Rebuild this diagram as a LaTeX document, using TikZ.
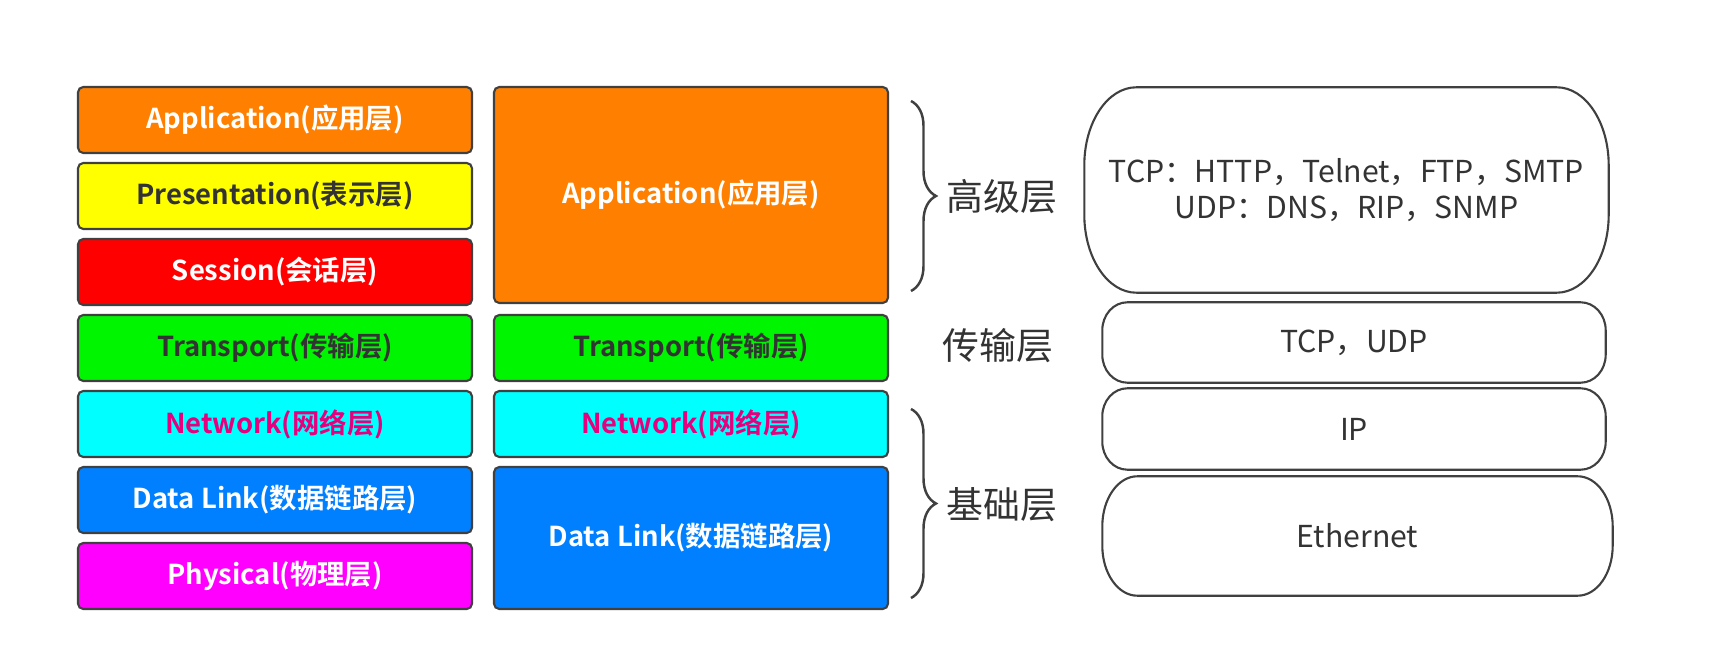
\documentclass[tikz,border=0pt]{standalone}
\usepackage{fontspec}
\setmainfont{Noto Sans CJK SC}[BoldFont={Noto Sans CJK SC Bold}]
\usetikzlibrary{decorations.pathreplacing}

\definecolor{osiorange}{RGB}{255,128,0}
\definecolor{osiyellow}{RGB}{255,255,0}
\definecolor{osired}{RGB}{255,0,0}
\definecolor{osigreen}{RGB}{0,245,0}
\definecolor{osicyan}{RGB}{0,255,255}
\definecolor{osiblue}{RGB}{0,128,255}
\definecolor{osimagenta}{RGB}{255,0,255}
\definecolor{netpink}{RGB}{230,0,126}
\definecolor{linegray}{RGB}{64,64,64}
\definecolor{textgray}{RGB}{51,51,51}

% outline with elliptic ends round a node: name, x radius, y radius
\newcommand{\pillline}[3]{%
  \draw[pill] ([xshift=#2]#1.north west) -- ([xshift=-#2]#1.north east)
    arc[start angle=90, end angle=0, x radius=#2, y radius=#3]
    -- ([yshift=#3]#1.south east)
    arc[start angle=0, end angle=-90, x radius=#2, y radius=#3]
    -- ([xshift=#2]#1.south west)
    arc[start angle=270, end angle=180, x radius=#2, y radius=#3]
    -- ([yshift=-#3]#1.north west)
    arc[start angle=180, end angle=90, x radius=#2, y radius=#3] -- cycle;}

\begin{document}
\begin{tikzpicture}[
    nivel/.style={draw=linegray, line width=0.6pt, rounded corners=1.5pt, minimum width=3.94cm, minimum height=0.66cm, inner sep=0pt, font=\fontsize{7.8}{9}\selectfont\bfseries},
    bloque/.style={inner sep=0pt, align=center, text=textgray, font=\fontsize{8.6}{10.3}\selectfont},
    pill/.style={draw=linegray, line width=0.6pt},
    etiqueta/.style={text=textgray, font=\fontsize{10.5}{12}\selectfont},
    llave/.style={draw=linegray, line width=0.7pt, decorate, decoration={brace, amplitude=0.25cm}}
  ]
  \useasboundingbox (0,0) rectangle (17.17,6.61);

  % OSI seven layers
  \node[nivel, fill=osiorange, text=white]    (app7)  at (2.75,5.41) {Application(应用层)};
  \node[nivel, fill=osiyellow, text=textgray] (pres7) at (2.75,4.65) {Presentation(表示层)};
  \node[nivel, fill=osired, text=white]       (ses7)  at (2.75,3.89) {Session(会话层)};
  \node[nivel, fill=osigreen, text=textgray]  (tra7)  at (2.75,3.13) {Transport(传输层)};
  \node[nivel, fill=osicyan, text=netpink]    (net7)  at (2.75,2.37) {Network(网络层)};
  \node[nivel, fill=osiblue, text=white]      (dl7)   at (2.75,1.61) {Data Link(数据链路层)};
  \node[nivel, fill=osimagenta, text=white]   (phy7)  at (2.75,0.85) {Physical(物理层)};

  % TCP/IP four layers
  \node[nivel, fill=osiorange, text=white, minimum height=2.16cm] (app4) at (6.91,4.66) {Application(应用层)};
  \node[nivel, fill=osigreen, text=textgray]  (tra4) at (6.91,3.13) {Transport(传输层)};
  \node[nivel, fill=osicyan, text=netpink]    (net4) at (6.91,2.37) {Network(网络层)};
  \node[nivel, fill=osiblue, text=white, minimum height=1.42cm] (dl4) at (6.91,1.23) {Data Link(数据链路层)};

  % braces and group names
  \coordinate (hiTop) at (9.11,5.60);
  \coordinate (hiBot) at (9.11,3.70);
  \coordinate (loTop) at (9.11,2.52);
  \coordinate (loBot) at (9.11,0.63);
  \draw[llave] (hiTop) -- (hiBot);
  \draw[llave] (loTop) -- (loBot);
  \node[etiqueta] (hiName)  at (10.02,4.64) {高级层};
  \node[etiqueta] (traName) at (9.98,3.15)  {传输层};
  \node[etiqueta] (loName)  at (10.02,1.56) {基础层};

  % protocols
  \node[bloque, minimum width=5.23cm, minimum height=2.04cm] (protoHi) at (13.465,4.71)
    {TCP：HTTP，Telnet，FTP，SMTP\\UDP：DNS，RIP，SNMP};
  \node[bloque, minimum width=5.02cm, minimum height=0.79cm] (protoTra) at (13.54,3.185) {TCP，UDP};
  \node[bloque, minimum width=5.02cm, minimum height=0.80cm] (protoNet) at (13.54,2.32) {IP};
  \node[bloque, minimum width=5.09cm, minimum height=1.18cm] (protoLink) at (13.575,1.25) {Ethernet};
  \pillline{protoHi}{0.52cm}{0.78cm}
  \pillline{protoTra}{0.25cm}{0.28cm}
  \pillline{protoNet}{0.25cm}{0.28cm}
  \pillline{protoLink}{0.35cm}{0.50cm}
\end{tikzpicture}
\end{document}
